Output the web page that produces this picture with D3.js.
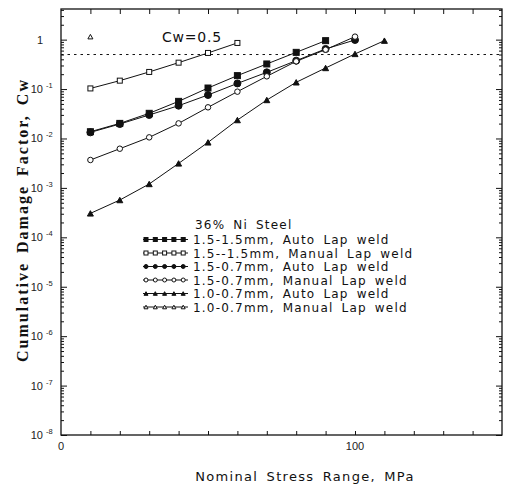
<!DOCTYPE html>
<html>
<head>
<meta charset="utf-8">
<script src="https://cdn.jsdelivr.net/npm/d3@7"></script>
<style>
  body { margin: 0; background: #fff; }
  svg { display: block; }
</style>
</head>
<body>
<svg id="chart" width="505" height="487"></svg>
<script>
/* Data */
var stress = [10, 20, 30, 40, 50, 60, 70, 80, 90, 100, 110];

var auto15_15   = [0.0137, 0.0202, 0.0323, 0.0564, 0.105, 0.187, 0.322, 0.553, 0.954];
var manual15_15 = [0.103, 0.148, 0.222, 0.342, 0.538, 0.857];
var auto15_07   = [0.0133, 0.0196, 0.0299, 0.0461, 0.0759, 0.130, 0.218, 0.376, 0.648, 0.985];
var manual15_07 = [0.00367, 0.00621, 0.01054, 0.0202, 0.0427, 0.0886, 0.181, 0.364, 0.628, 1.15];
var auto10_07   = [0.000305, 0.000568, 0.00120, 0.00313, 0.00834, 0.0236, 0.0601, 0.137, 0.267, 0.514, 0.954];
var manual10_07 = [1.15];

var seriesNames = [
    "1.5-1.5mm, Auto Lap weld",
    "1.5--1.5mm, Manual Lap weld",
    "1.5-0.7mm, Auto Lap weld",
    "1.5-0.7mm, Manual Lap weld",
    "1.0-0.7mm, Auto Lap weld",
    "1.0-0.7mm, Manual Lap weld"
];
var seriesValues = [auto15_15, manual15_15, auto15_07, manual15_07, auto10_07, manual10_07];
var seriesMarks  = ["square", "square", "circle", "circle", "triangle", "triangle"];
var seriesFilled = [true, false, true, false, true, false];

var yExponents = [0, -1, -2, -3, -4, -5, -6, -7, -8];
var xLabels = [0, 100];
var limitCw = 0.5;

/* Scales */
var svg = d3.select("#chart");
var pLeft = 61, pRight = 502, pTop = 9, pBottom = 435;

var xAxis = d3.scaleLinear()
    .domain([0, 150])
    .range([pLeft, pRight]);

var yAxis = d3.scaleLog()
    .domain([1e-8, Math.pow(10, 0.62)])
    .range([pBottom, pTop]);

var minorY = [];
for (var e = -8; e <= 0; e++) {
    for (var m = 2; m <= 9; m++) {
        var v = m * Math.pow(10, e);
        if (v <= yAxis.domain()[1]) minorY.push(v);
    }
}
var majorY = yExponents.map(d => Math.pow(10, d));
var xTicks = d3.range(10, 150, 10);

/* Ticks on all four sides, pointing inward */
function addAxis(axis, tr) {
    var g = svg.append("g")
        .attr("transform", tr)
        .call(axis.tickFormat(""));
    g.select(".domain").remove();
    g.selectAll("line").attr("stroke", "#111").attr("stroke-width", 1);
}
addAxis(d3.axisLeft(yAxis).tickValues(majorY).tickSize(-6), "translate(" + pLeft + ",0)");
addAxis(d3.axisLeft(yAxis).tickValues(minorY).tickSize(-3), "translate(" + pLeft + ",0)");
addAxis(d3.axisRight(yAxis).tickValues(majorY).tickSize(-6), "translate(" + pRight + ",0)");
addAxis(d3.axisRight(yAxis).tickValues(minorY).tickSize(-3), "translate(" + pRight + ",0)");
addAxis(d3.axisBottom(xAxis).tickValues(xTicks).tickSize(-4), "translate(0," + pBottom + ")");
addAxis(d3.axisTop(xAxis).tickValues(xTicks).tickSize(-5), "translate(0," + pTop + ")");

svg.append("rect")
    .attr("x", pLeft)
    .attr("y", pTop)
    .attr("width", pRight - pLeft)
    .attr("height", pBottom - pTop)
    .attr("fill", "none")
    .attr("stroke", "#111")
    .attr("stroke-width", 1.3);

/* Y tick labels: 1, 10^-1 ... 10^-8 */
yExponents.forEach(function(p) {
    var yy = yAxis(Math.pow(10, p)) + 4;
    svg.append("text")
        .attr("x", 43)
        .attr("y", yy)
        .attr("text-anchor", "end")
        .attr("font-family", "Liberation Sans, Arial, sans-serif")
        .attr("font-size", 11)
        .attr("fill", "#222")
        .text(p == 0 ? "1" : "10");
    if (p != 0) {
        svg.append("text")
            .attr("x", 46)
            .attr("y", yy - 5)
            .attr("font-family", "Liberation Sans, Arial, sans-serif")
            .attr("font-size", 7.5)
            .attr("fill", "#222")
            .text("-" + (-p));
    }
});

/* X tick labels */
svg.selectAll("text.xlab")
    .data(xLabels)
    .enter()
    .append("text")
    .attr("class", "xlab")
    .attr("x", d => xAxis(d))
    .attr("y", pBottom + 15)
    .attr("text-anchor", "middle")
    .attr("font-family", "Liberation Sans, Arial, sans-serif")
    .attr("font-size", 11)
    .attr("fill", "#222")
    .text(d => d);

/* Axis titles */
svg.append("text")
    .attr("x", 305)
    .attr("y", 481)
    .attr("text-anchor", "middle")
    .attr("font-family", "DejaVu Sans, sans-serif")
    .attr("font-size", 13)
    .attr("letter-spacing", 1.3)
    .attr("word-spacing", 3)
    .attr("fill", "#111")
    .text("Nominal Stress Range, MPa");

svg.append("text")
    .attr("transform", "translate(28,220) rotate(-90)")
    .attr("text-anchor", "middle")
    .attr("font-family", "Liberation Serif, Times New Roman, serif")
    .attr("font-weight", "bold")
    .attr("font-size", 16)
    .attr("letter-spacing", 2)
    .attr("word-spacing", 3)
    .attr("fill", "#111")
    .text("Cumulative Damage Factor, Cw");

/* Cw = 0.5 limit */
svg.append("line")
    .attr("x1", pLeft)
    .attr("x2", pRight)
    .attr("y1", yAxis(limitCw))
    .attr("y2", yAxis(limitCw))
    .attr("stroke", "#111")
    .attr("stroke-width", 1)
    .attr("stroke-dasharray", "2.5,4");

svg.append("text")
    .attr("x", 162)
    .attr("y", 42)
    .attr("font-family", "DejaVu Sans, sans-serif")
    .attr("font-size", 14)
    .attr("letter-spacing", 0.8)
    .attr("fill", "#111")
    .text("Cw=" + limitCw);

/* Markers */
function marker(g, kind, filled, cx, cy, s) {
    var el;
    if (kind == "square") {
        el = g.append("rect")
            .attr("x", cx - s / 2).attr("y", cy - s / 2)
            .attr("width", s).attr("height", s);
    } else if (kind == "circle") {
        el = g.append("circle")
            .attr("cx", cx).attr("cy", cy).attr("r", s / 2);
    } else {
        var h = s * 0.9;
        el = g.append("path")
            .attr("d", "M" + cx + "," + (cy - h / 2) + "L" + (cx + s / 2) + "," + (cy + h / 2) +
                "L" + (cx - s / 2) + "," + (cy + h / 2) + "Z");
    }
    el.attr("fill", filled ? "#111" : "#fff")
        .attr("stroke", "#111")
        .attr("stroke-width", 1);
}

var line = d3.line()
    .x((d, i) => xAxis(stress[i]))
    .y(d => yAxis(d));

var plot = svg.append("g");
seriesValues.forEach(function(vals, k) {
    plot.append("path")
        .datum(vals)
        .attr("d", line)
        .attr("fill", "none")
        .attr("stroke", "#111")
        .attr("stroke-width", 1);
});
seriesValues.forEach(function(vals, k) {
    var size = seriesMarks[k] == "circle" ? (seriesFilled[k] ? 7 : 5.5) : (seriesFilled[k] ? 6 : 5);
    vals.forEach(function(v, i) {
        marker(plot, seriesMarks[k], seriesFilled[k], xAxis(stress[i]), yAxis(v), size);
    });
});

/* Legend */
var legend = svg.append("g");
legend.append("text")
    .attr("x", 195)
    .attr("y", 229)
    .attr("font-family", "DejaVu Sans, sans-serif")
    .attr("font-size", 12)
    .attr("letter-spacing", 1.2)
    .attr("word-spacing", 3)
    .attr("fill", "#111")
    .text("36% Ni Steel");

seriesNames.forEach(function(name, k) {
    var ly = 239.5 + k * 13.5;
    legend.append("line")
        .attr("x1", 143).attr("x2", 188)
        .attr("y1", ly).attr("y2", ly)
        .attr("stroke", "#111")
        .attr("stroke-width", 1);
    for (var j = 0; j < 5; j++) {
        marker(legend, seriesMarks[k], seriesFilled[k], 146 + j * 9.3, ly, 4);
    }
    legend.append("text")
        .attr("x", 193)
        .attr("y", ly + 4.5)
        .attr("font-family", "DejaVu Sans, sans-serif")
        .attr("font-size", 12)
        .attr("letter-spacing", 1.2)
        .attr("word-spacing", 3)
        .attr("fill", "#111")
        .text(name);
});
</script>
</body>
</html>
